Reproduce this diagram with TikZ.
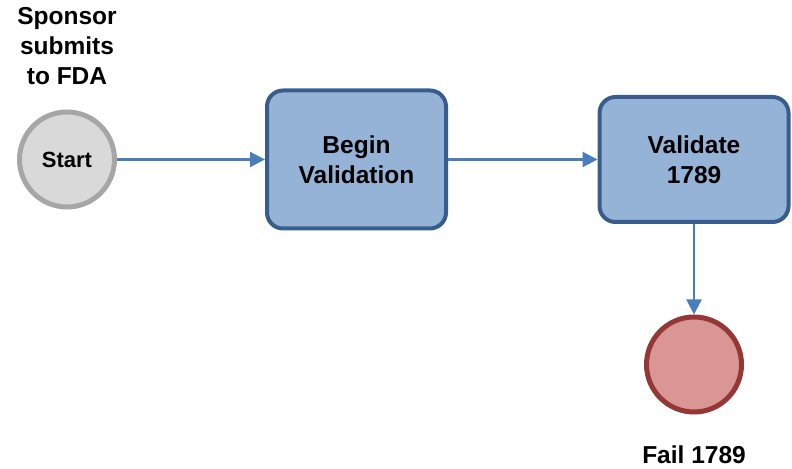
\documentclass[tikz,border=0pt]{standalone}
\usepackage{fontspec}
\setmainfont{Liberation Sans}
\usetikzlibrary{shapes.geometric, arrows.meta}
\definecolor{startfill}{HTML}{D9D9D9}
\definecolor{startline}{HTML}{A6A6A6}
\definecolor{boxfill}{HTML}{95B3D7}
\definecolor{boxline}{HTML}{385D8A}
\definecolor{failfill}{HTML}{D99694}
\definecolor{failline}{HTML}{953735}
\definecolor{arrowblue}{HTML}{4A7EBB}
\tikzstyle{startstop} = [
    circle,
    minimum size = 95bp,
    inner sep = 0pt,
    line width = 5bp,
    text centered,
    font = \fontsize{22bp}{26bp}\selectfont\bfseries,
    draw = startline,
    fill = startfill
]
\tikzstyle{failstop} = [
    circle,
    minimum size = 95bp,
    inner sep = 0pt,
    line width = 5bp,
    draw = failline,
    fill = failfill
]
\tikzstyle{process} = [
    rectangle,
    rounded corners = 16bp,
    line width = 4bp,
    inner sep = 0pt,
    text centered,
    align = center,
    font = \fontsize{24.5bp}{30bp}\selectfont\bfseries,
    draw = boxline,
    fill = boxfill
]
\tikzstyle{note} = [
    align = center,
    inner sep = 0pt,
    font = \fontsize{24.5bp}{30bp}\selectfont\bfseries
]
\tikzstyle{arrow} = [line width = 2.2bp, draw = arrowblue, -{Triangle[length = 15bp, width = 15bp]}]
\begin{document}
\begin{tikzpicture}[x = 1bp, y = 1bp, node distance = 100bp]
    \useasboundingbox (0,0) rectangle (792,469);

    \node (start) [startstop] at (67,309.5) {Start};

    \node (sponsor) [note, above of = start, yshift = 13bp]
        {Sponsor\\submits\\to FDA};

    \node
        (begin)
        [process, right of = start, xshift = 189.5bp,
         minimum width = 179bp, minimum height = 138bp]
        {Begin\\Validation};

    \draw [arrow] (start) -- (begin);

    \node
        (validate)
        [process, right of = begin, xshift = 237.5bp,
         minimum width = 189bp, minimum height = 125bp]
        {Validate\\1789};

    \draw [arrow] (begin) -- (validate);

    \node
        (fail)
        [failstop, below of = validate, yshift = -105bp]
        {};

    \draw [arrow] (validate) -- (fail);

    \node (fail label) [note, below of = fail, yshift = 10bp] {Fail 1789};

\end{tikzpicture}
\end{document}
